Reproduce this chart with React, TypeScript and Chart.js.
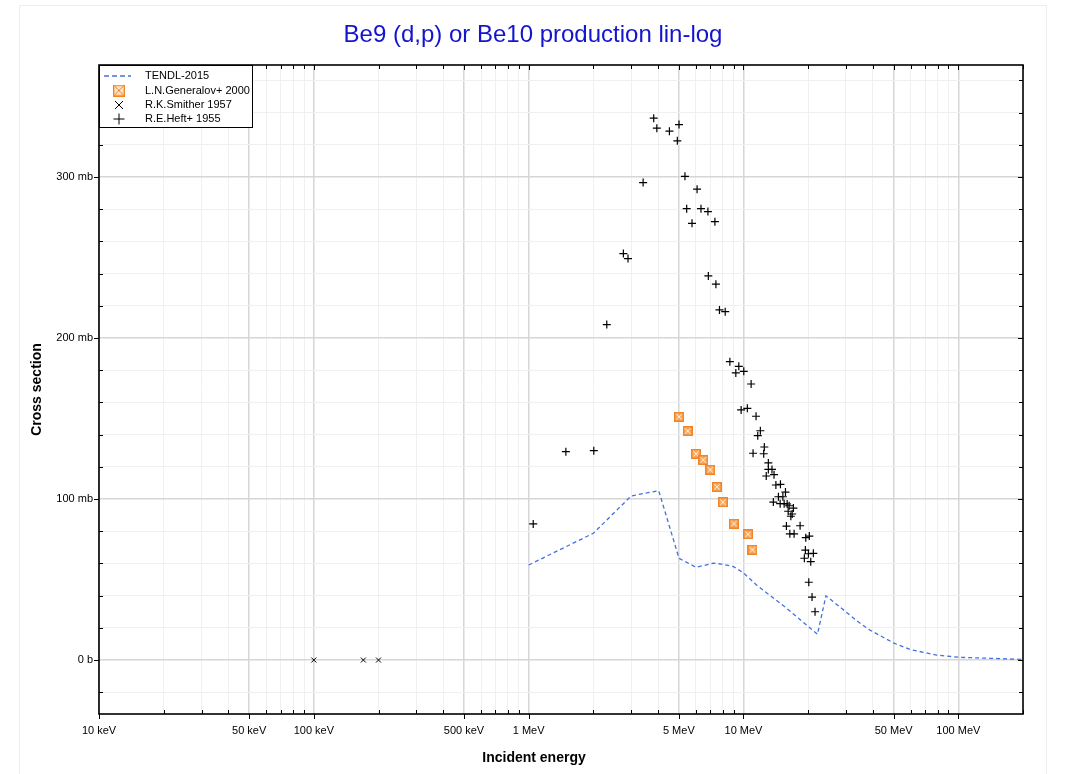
import React, { useEffect, useRef } from 'react';
import { Chart, registerables } from 'chart.js';

Chart.register(...registerables);

const TITLE = 'Be9 (d,p) or Be10 production lin-log';
const X_TITLE = 'Incident energy';
const Y_TITLE = 'Cross section';

// Energies in MeV, cross sections in mb
const TENDL_E = [1.0, 2.0, 3.0, 4.03, 5.01, 6.01, 7.25, 7.93, 8.98, 9.99, 11.5, 15.9, 22.1, 24.2, 34.9, 38.8, 49.8, 59.5, 79.1, 101.5, 200];
const TENDL_XS = [59.0, 78.7, 101.9, 105.2, 63.2, 57.6, 60.1, 59.6, 58.0, 54.2, 46.6, 32.1, 16.0, 39.9, 22.8, 18.6, 10.7, 6.6, 3.1, 1.7, 0.4];

const GENERALOV_E = [5.01, 5.5, 6.01, 6.5, 7.0, 7.52, 8.02, 9.02, 10.5, 11.0];
const GENERALOV_XS = [151.1, 142.2, 128.1, 124.2, 118.2, 107.5, 98.0, 84.7, 78.1, 68.5];

const SMITHER_E = [0.1, 0.17, 0.2];
const SMITHER_XS = [0, 0, 0];

const HEFT_E = [
  1.05, 1.49, 2.01, 2.31, 2.76, 2.9, 3.41, 3.82, 3.95, 4.52,
  4.92, 5.01, 5.34, 5.44, 5.76, 6.08, 6.34, 6.83, 7.36, 6.86,
  7.44, 7.73, 8.22, 8.64, 9.51, 9.21, 10.03, 10.85, 9.75, 10.42,
  11.44, 11.98, 11.65, 12.5, 11.08, 12.42, 13.05, 13.05, 13.57, 13.87,
  12.76, 14.15, 14.86, 15.68, 14.54, 15.25, 13.77, 14.81, 15.46, 15.97,
  16.31, 17.07, 16.14, 16.85, 16.61, 15.84, 18.34, 16.43, 17.2, 19.49,
  20.25, 19.41, 21.14, 20.05, 19.2, 20.56, 20.13, 20.85, 21.53,
];
const HEFT_XS = [
  84.5, 129.4, 130.0, 208.3, 252.4, 249.3, 296.5, 336.5, 330.3, 328.4,
  322.4, 332.5, 300.4, 280.3, 271.2, 292.4, 280.3, 278.5, 272.2, 238.5,
  233.4, 217.4, 216.3, 185.3, 182.4, 178.3, 179.3, 171.4, 155.3, 156.3,
  151.4, 142.4, 139.3, 132.3, 128.4, 128.1, 122.4, 118.4, 118.4, 115.1,
  114.3, 108.7, 109.1, 104.3, 101.4, 101.4, 98.1, 97.1, 97.1, 96.9,
  95.8, 94.4, 92.4, 90.7, 89.3, 83.2, 83.4, 78.4, 78.4, 76.0,
  77.0, 68.3, 66.3, 66.0, 63.2, 61.1, 48.3, 39.1, 30.0,
];

const X_MIN = 0.01;
const X_MAX = 200;
const Y_MIN = -33.5;
const Y_MAX = 369.5;

const X_DECADES = [0.01, 0.1, 1, 10, 100];
const X_MULTS = [1, 2, 3, 4, 5, 6, 7, 8, 9];
const X_LABEL_VALUES = [0.01, 0.05, 0.1, 0.5, 1, 5, 10, 50, 100];
const X_LABEL_TEXTS = ['10 keV', '50 keV', '100 keV', '500 keV', '1 MeV', '5 MeV', '10 MeV', '50 MeV', '100 MeV'];

const Y_TICK_STEP = 20;
const Y_LABEL_VALUES = [0, 100, 200, 300];
const Y_LABEL_TEXTS = ['0 b', '100 mb', '200 mb', '300 mb'];

const LEGEND_LABELS = ['TENDL-2015', 'L.N.Generalov+ 2000', 'R.K.Smither 1957', 'R.E.Heft+ 1955'];

const FONT = '"Liberation Sans", Arial, Helvetica, sans-serif';
const LINE_COLOR = '#4470e0';
const ORANGE = '#f28424';

const xTickValues: number[] = [];
X_DECADES.forEach((d) => X_MULTS.forEach((m) => {
  const v = +(d * m).toPrecision(6);
  if (v >= X_MIN && v <= X_MAX) xTickValues.push(v);
}));
const yTickValues: number[] = [];
for (let v = Math.ceil(Y_MIN / Y_TICK_STEP) * Y_TICK_STEP; v <= Y_MAX; v += Y_TICK_STEP) yTickValues.push(v);

const xLabelFor = (v: number) => {
  const i = X_LABEL_VALUES.findIndex((lv) => Math.abs(v / lv - 1) < 1e-6);
  return i >= 0 ? X_LABEL_TEXTS[i] : '';
};
const yLabelFor = (v: number) => {
  const i = Y_LABEL_VALUES.findIndex((lv) => Math.abs(v - lv) < 1e-6);
  return i >= 0 ? Y_LABEL_TEXTS[i] : '';
};

function makeBoxX(s: number): HTMLCanvasElement {
  const c = document.createElement('canvas');
  c.width = s;
  c.height = s;
  const g = c.getContext('2d')!;
  g.fillStyle = '#f9a860';
  g.fillRect(0, 0, s, s);
  g.strokeStyle = ORANGE;
  g.lineWidth = 1.4;
  g.strokeRect(0.7, 0.7, s - 1.4, s - 1.4);
  g.strokeStyle = '#fff1e0';
  g.lineWidth = 1;
  g.beginPath();
  g.moveTo(2.2, 2.2);
  g.lineTo(s - 2.2, s - 2.2);
  g.moveTo(s - 2.2, 2.2);
  g.lineTo(2.2, s - 2.2);
  g.stroke();
  return c;
}

function makeLegendBoxX(s: number): HTMLCanvasElement {
  const c = document.createElement('canvas');
  c.width = s;
  c.height = s;
  const g = c.getContext('2d')!;
  g.fillStyle = '#fde3c8';
  g.fillRect(0, 0, s, s);
  g.strokeStyle = ORANGE;
  g.lineWidth = 1.4;
  g.strokeRect(0.7, 0.7, s - 1.4, s - 1.4);
  g.lineWidth = 1;
  g.beginPath();
  g.moveTo(2, 2);
  g.lineTo(s - 2, s - 2);
  g.moveTo(s - 2, 2);
  g.lineTo(2, s - 2);
  g.stroke();
  return c;
}

const pts = (xs: number[], ys: number[]) => xs.map((x, i) => ({ x, y: ys[i] }));

const decorPlugin = {
  id: 'decor',
  beforeDraw(chart: any) {
    const ctx = chart.ctx;
    ctx.save();
    ctx.fillStyle = '#ffffff';
    ctx.fillRect(0, 0, chart.width, chart.height);
    ctx.strokeStyle = '#ededed';
    ctx.lineWidth = 1;
    ctx.strokeRect(19.5, 5.5, 1027, 820);
    ctx.restore();
  },
  afterDraw(chart: any) {
    const ctx = chart.ctx;
    const a = chart.chartArea;
    const xs = chart.scales.x;
    const ys = chart.scales.y;
    ctx.save();

    // Titles
    ctx.fillStyle = '#1414d0';
    ctx.font = `24px ${FONT}`;
    ctx.textAlign = 'center';
    ctx.textBaseline = 'middle';
    ctx.fillText(TITLE, 533, 35);

    ctx.fillStyle = '#000';
    ctx.font = `bold 14px ${FONT}`;
    ctx.fillText(X_TITLE, 534, 758);
    ctx.save();
    ctx.translate(37, (a.top + a.bottom) / 2);
    ctx.rotate(-Math.PI / 2);
    ctx.fillText(Y_TITLE, 0, 0);
    ctx.restore();

    // Frame
    ctx.strokeStyle = '#000';
    ctx.lineWidth = 1.6;
    ctx.strokeRect(a.left, a.top, a.right - a.left, a.bottom - a.top);

    // Tick marks
    ctx.lineWidth = 1;
    ctx.beginPath();
    xTickValues.forEach((v) => {
      const px = Math.round(xs.getPixelForValue(v)) + 0.5;
      if (xLabelFor(v)) {
        ctx.moveTo(px, a.bottom);
        ctx.lineTo(px, a.bottom + 5);
        ctx.moveTo(px, a.top);
        ctx.lineTo(px, a.top + 5);
      } else {
        ctx.moveTo(px, a.bottom);
        ctx.lineTo(px, a.bottom - 4);
        ctx.moveTo(px, a.top);
        ctx.lineTo(px, a.top + 4);
      }
    });
    yTickValues.forEach((v) => {
      const py = Math.round(ys.getPixelForValue(v)) + 0.5;
      if (yLabelFor(v)) {
        ctx.moveTo(a.left - 5, py);
        ctx.lineTo(a.left, py);
        ctx.moveTo(a.right - 5, py);
        ctx.lineTo(a.right, py);
      } else {
        ctx.moveTo(a.left, py);
        ctx.lineTo(a.left + 4, py);
        ctx.moveTo(a.right - 4, py);
        ctx.lineTo(a.right, py);
      }
    });
    ctx.stroke();

    // Legend
    const lx = a.left;
    const ly = a.top;
    const lw = 153;
    const lh = 62;
    ctx.fillStyle = '#fff';
    ctx.fillRect(lx, ly, lw, lh);
    ctx.strokeStyle = '#000';
    ctx.lineWidth = 1;
    ctx.strokeRect(lx + 0.5, ly + 0.5, lw, lh);
    const rowY = [ly + 11, ly + 25.5, ly + 40, ly + 54];
    const symX = lx + 20;
    // row 0: dashed line
    ctx.strokeStyle = LINE_COLOR;
    ctx.lineWidth = 1.6;
    ctx.setLineDash([5, 3]);
    ctx.beginPath();
    ctx.moveTo(lx + 5, rowY[0]);
    ctx.lineTo(lx + 32, rowY[0]);
    ctx.stroke();
    ctx.setLineDash([]);
    // row 1: box-x
    ctx.drawImage(legendBoxImg, symX - 6, rowY[1] - 6);
    // row 2: x
    ctx.strokeStyle = '#000';
    ctx.lineWidth = 1;
    ctx.beginPath();
    ctx.moveTo(symX - 4, rowY[2] - 4);
    ctx.lineTo(symX + 4, rowY[2] + 4);
    ctx.moveTo(symX + 4, rowY[2] - 4);
    ctx.lineTo(symX - 4, rowY[2] + 4);
    // row 3: +
    ctx.moveTo(symX - 5.5, rowY[3]);
    ctx.lineTo(symX + 5.5, rowY[3]);
    ctx.moveTo(symX, rowY[3] - 5.5);
    ctx.lineTo(symX, rowY[3] + 5.5);
    ctx.stroke();
    ctx.fillStyle = '#000';
    ctx.font = `11px ${FONT}`;
    ctx.textAlign = 'left';
    ctx.textBaseline = 'middle';
    LEGEND_LABELS.forEach((t, i) => ctx.fillText(t, lx + 46, rowY[i]));

    ctx.restore();
  },
};

let legendBoxImg: HTMLCanvasElement;

export default function App() {
  const ref = useRef<HTMLCanvasElement>(null);

  useEffect(() => {
    if (!ref.current) return;
    const boxImg = makeBoxX(10);
    legendBoxImg = makeLegendBoxX(12);
    const chart = new Chart(ref.current, {
      type: 'scatter',
      data: {
        datasets: [
          {
            label: LEGEND_LABELS[3],
            data: pts(HEFT_E, HEFT_XS),
            pointStyle: 'cross',
            pointRadius: 4,
            borderColor: '#000',
            backgroundColor: '#000',
            borderWidth: 1.2,
          },
          {
            label: LEGEND_LABELS[2],
            data: pts(SMITHER_E, SMITHER_XS),
            pointStyle: 'crossRot',
            pointRadius: 3.5,
            borderColor: '#000',
            backgroundColor: '#000',
            borderWidth: 1,
          },
          {
            label: LEGEND_LABELS[1],
            data: pts(GENERALOV_E, GENERALOV_XS),
            pointStyle: boxImg as any,
            pointRadius: 5,
            borderColor: ORANGE,
            backgroundColor: ORANGE,
          },
          {
            label: LEGEND_LABELS[0],
            data: pts(TENDL_E, TENDL_XS),
            showLine: true,
            pointRadius: 0,
            borderColor: LINE_COLOR,
            backgroundColor: LINE_COLOR,
            borderWidth: 1.3,
            borderDash: [4, 3],
            tension: 0,
          },
        ],
      },
      options: {
        animation: false,
        responsive: false,
        devicePixelRatio: 1,
        events: [],
        layout: { padding: { left: 0, top: 65, right: 48, bottom: 0 } },
        plugins: {
          legend: { display: false },
          title: { display: false },
          tooltip: { enabled: false },
        },
        scales: {
          x: {
            type: 'logarithmic',
            min: X_MIN,
            max: X_MAX,
            afterBuildTicks: (s: any) => {
              s.ticks = xTickValues.map((v) => ({ value: v }));
            },
            afterFit: (s: any) => {
              s.height = 60;
            },
            border: { display: false },
            grid: {
              drawTicks: false,
              color: (c: any) => (c.tick && xLabelFor(c.tick.value) ? '#d6d6d6' : '#f0f0f0'),
              lineWidth: (c: any) => (c.tick && xLabelFor(c.tick.value) ? 1.5 : 1),
            },
            ticks: {
              autoSkip: false,
              maxRotation: 0,
              minRotation: 0,
              padding: 10,
              color: '#000',
              font: { family: FONT, size: 11 },
              callback: (v: any) => xLabelFor(Number(v)),
            },
          },
          y: {
            type: 'linear',
            min: Y_MIN,
            max: Y_MAX,
            afterBuildTicks: (s: any) => {
              s.ticks = yTickValues.map((v) => ({ value: v }));
            },
            afterFit: (s: any) => {
              s.width = 99;
            },
            border: { display: false },
            grid: {
              drawTicks: false,
              color: (c: any) => (c.tick && yLabelFor(c.tick.value) ? '#d6d6d6' : '#f0f0f0'),
              lineWidth: (c: any) => (c.tick && yLabelFor(c.tick.value) ? 1.5 : 1),
            },
            ticks: {
              autoSkip: false,
              padding: 6,
              color: '#000',
              font: { family: FONT, size: 11 },
              callback: (v: any) => yLabelFor(Number(v)),
            },
          },
        },
      },
      plugins: [decorPlugin],
    });
    return () => chart.destroy();
  }, []);

  return (
    <div style={{ position: 'absolute', left: 0, top: 0, width: 1071, height: 774, background: '#fff' }}>
      <canvas ref={ref} width={1071} height={774} style={{ display: 'block', width: 1071, height: 774 }} />
    </div>
  );
}
